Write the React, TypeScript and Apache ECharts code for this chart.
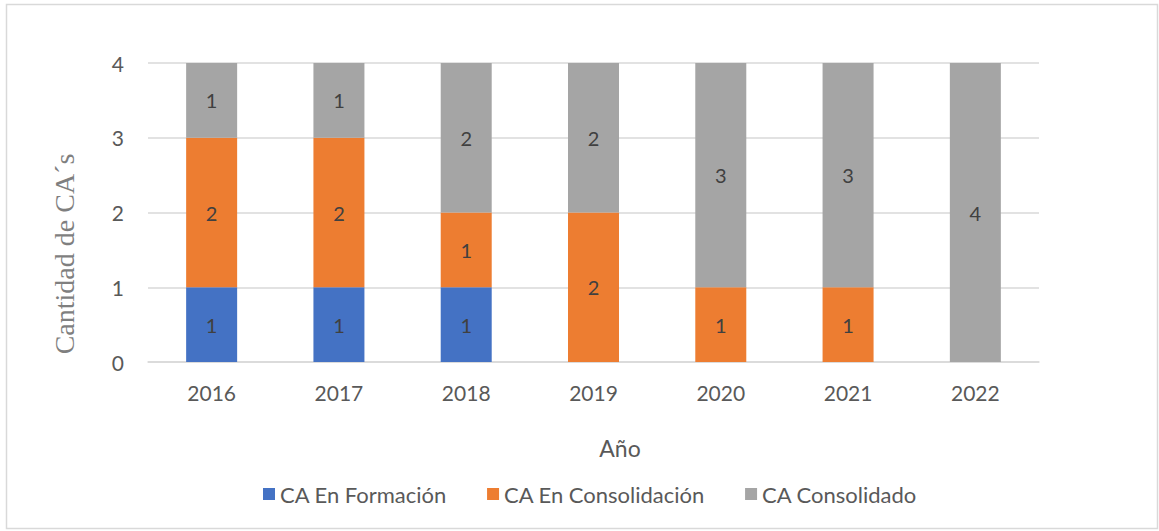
import React, { useEffect, useRef } from "react";
import * as echarts from "echarts";

const years = ["2016", "2017", "2018", "2019", "2020", "2021", "2022"];
const enFormacion = [1, 1, 1, 0, 0, 0, 0];
const enConsolidacion = [2, 2, 1, 2, 1, 1, 0];
const consolidado = [1, 1, 2, 2, 3, 3, 4];
const seriesNames = ["CA En Formación", "CA En Consolidación", "CA Consolidado"];
const colors = ["#4472C4", "#ED7D31", "#A5A5A5"];
const yTicks = [0, 1, 2, 3, 4];
const yTitle = "Cantidad de CA´s";
const xTitle = "Año";

const FONT = "Lato, 'Open Sans', sans-serif";

export default function App() {
  const ref = useRef<HTMLDivElement>(null);
  useEffect(() => {
    if (!ref.current) return;
    const chart = echarts.init(ref.current, undefined, { renderer: "svg" });
    const mk = (name: string, data: number[], color: string) => ({
      name,
      type: "bar",
      stack: "total",
      barWidth: 51,
      data: data.map((v) => (v === 0 ? null : v)),
      itemStyle: { color },
      label: {
        show: true,
        position: "inside",
        color: "#404040",
        fontSize: 20,
        fontFamily: FONT,
        formatter: (p: any) => (p.value ? String(p.value) : ""),
      },
    });
    chart.setOption({
      animation: false,
      backgroundColor: "#fff",
      graphic: [
        {
          type: "rect",
          shape: { x: 6.5, y: 4.5, width: 1151, height: 524 },
          style: { fill: "none", stroke: "#d9d9d9", lineWidth: 1.5 },
          z: -1,
        },
        {
          type: "text",
          x: 64,
          y: 254,
          rotation: Math.PI / 2,
          style: {
            text: yTitle,
            fill: "#7f7f7f",
            fontSize: 28,
            fontFamily: "'Liberation Serif', 'DejaVu Serif', serif",
            align: "center",
            verticalAlign: "middle",
          },
        },
        {
          type: "text",
          x: 620,
          y: 448,
          style: {
            text: xTitle,
            fill: "#595959",
            fontSize: 23,
            fontFamily: FONT,
            align: "center",
            verticalAlign: "middle",
          },
        },
      ],
      grid: { left: 148, right: 120, top: 63, bottom: 169 },
      legend: {
        data: seriesNames,
        left: 258,
        top: 478,
        itemWidth: 12,
        itemHeight: 12,
        itemGap: 40,
        icon: "rect",
        textStyle: { color: "#595959", fontSize: 22, fontFamily: FONT },
      },
      xAxis: {
        type: "category",
        data: years,
        axisLine: { lineStyle: { color: "#d9d9d9", width: 1.5 } },
        axisTick: { show: false },
        axisLabel: { color: "#595959", fontSize: 21, fontFamily: FONT, margin: 20 },
      },
      yAxis: {
        type: "value",
        min: yTicks[0],
        max: yTicks[yTicks.length - 1],
        interval: 1,
        axisLine: { show: false },
        axisTick: { show: false },
        axisLabel: { color: "#595959", fontSize: 21, fontFamily: FONT, margin: 24 },
        splitLine: { lineStyle: { color: "#d9d9d9", width: 1.5 } },
      },
      series: [
        mk(seriesNames[0], enFormacion, colors[0]),
        mk(seriesNames[1], enConsolidacion, colors[1]),
        mk(seriesNames[2], consolidado, colors[2]),
      ],
    });
    return () => chart.dispose();
  }, []);
  return (
    <div
      ref={ref}
      style={{ position: "absolute", left: 0, top: 0, width: 1159, height: 531 }}
    />
  );
}
